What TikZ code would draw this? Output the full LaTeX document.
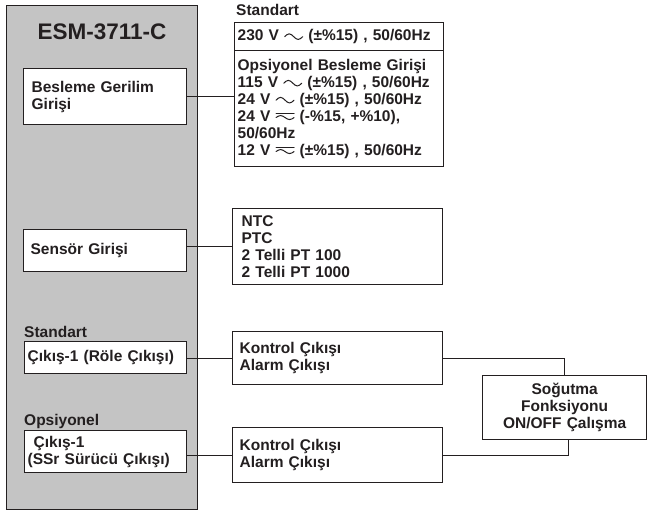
\documentclass[tikz,border=0pt]{standalone}
\usepackage{fontspec}
\setmainfont{Liberation Sans}
\usetikzlibrary{calc}
\definecolor{ink}{HTML}{231F20}
\definecolor{panel}{HTML}{C4C4C4}
\newcommand{\acw}{\tikz[baseline=0pt,x=1pt,y=1pt]\draw[ink,line width=1pt,line cap=round] (0,4) sin (4.5,6.8) cos (9,4) sin (13.5,1.2) cos (18,4);}
\newcommand{\acdcw}{\tikz[baseline=0pt,x=1pt,y=1pt]{\draw[ink,line width=1pt,line cap=round] (0,8) -- (18,8);\draw[ink,line width=1pt,line cap=round] (0,3.6) sin (4.5,5.6) cos (9,3.6) sin (13.5,1.6) cos (18,3.6);}}
\begin{document}
\begin{tikzpicture}[x=1pt,y=-1pt,
  font=\fontsize{15.5}{17}\selectfont\bfseries, text=ink,
  box/.style={draw=ink, line width=1.3pt, fill=white, anchor=north west, inner ysep=0pt, align=left},
  wire/.style={draw=ink, line width=1.1pt},
  lbl/.style={anchor=base west, inner sep=0pt}]
\useasboundingbox (0,0) rectangle (648,510);
% device panel
\node[draw=ink, fill=panel, line width=1.3pt, minimum width=191pt, minimum height=504pt, anchor=north west, inner sep=0pt] (esm) at (6,5) {};
\node[font=\fontsize{22.5}{24}\selectfont\bfseries] (title) at (102,32) {ESM-3711-C};
% left boxes
\node[box, minimum width=163pt, minimum height=56pt, inner xsep=8pt, text width=147pt] (bes) at (23,68) {Besleme Gerilim\\Girişi};
\node[box, minimum width=163pt, minimum height=42pt, inner xsep=7pt, text width=149pt] (sen) at (23,229) {Sensör Girişi};
\node[lbl] (std2) at (24,338) {Standart};
\node[box, minimum width=162pt, minimum height=32pt, inner xsep=3pt, text width=156pt] (c1) at (24,341) {Çıkış-1 (Röle Çıkışı)};
\node[lbl] (ops) at (24,425) {Opsiyonel};
\node[box, minimum width=162pt, minimum height=42pt, inner xsep=3pt, text width=156pt] (c2) at (24,430) {\hspace*{6pt}Çıkış-1\\(SSr Sürücü Çıkışı)};
% right boxes
\node[lbl] (std1) at (236,16) {Standart};
\node[box, minimum width=209pt, minimum height=28pt, inner xsep=3pt, text width=203pt] (pow1) at (234,22) {230 V \acw\ (±\%15) , 50/60Hz};
\node[box, minimum width=209pt, minimum height=116pt, inner xsep=3pt, text width=203pt] (pow2) at (234,50) {Opsiyonel Besleme Girişi\\115 V \acw\ (±\%15) , 50/60Hz\\24 V \acw\ (±\%15) , 50/60Hz\\24 V \acdcw\ (-\%15, +\%10),\\50/60Hz\\12 V \acdcw\ (±\%15) , 50/60Hz};
\node[box, minimum width=210pt, minimum height=76pt, inner xsep=9pt, text width=192pt] (senl) at (232,208) {NTC\\PTC\\2 Telli PT 100\\2 Telli PT 1000};
\node[box, minimum width=210pt, minimum height=53pt, inner xsep=7pt, text width=196pt] (k1) at (232,331) {Kontrol Çıkışı\\Alarm Çıkışı};
\node[box, minimum width=210pt, minimum height=55pt, inner xsep=7pt, text width=196pt] (k2) at (232,427) {Kontrol Çıkışı\\Alarm Çıkışı};
\node[box, align=center, minimum width=164pt, minimum height=64pt, inner xsep=4pt, text width=156pt] (sog) at (482,375) {Soğutma\\Fonksiyonu\\ON/OFF Çalışma};
% connectors
\draw[wire] (bes.east) -- (bes.east -| pow2.west);
\draw[wire] (senl.west -| sen.east) -- (senl.west);
\draw[wire] (k1.west -| c1.east) -- (k1.west);
\draw[wire] (k2.west -| c2.east) -- (k2.west);
\draw[wire] (k1.east) -| (sog.north);
\draw[wire] (k2.east) -| ($(sog.south)+(4,0)$);
\end{tikzpicture}
\end{document}
